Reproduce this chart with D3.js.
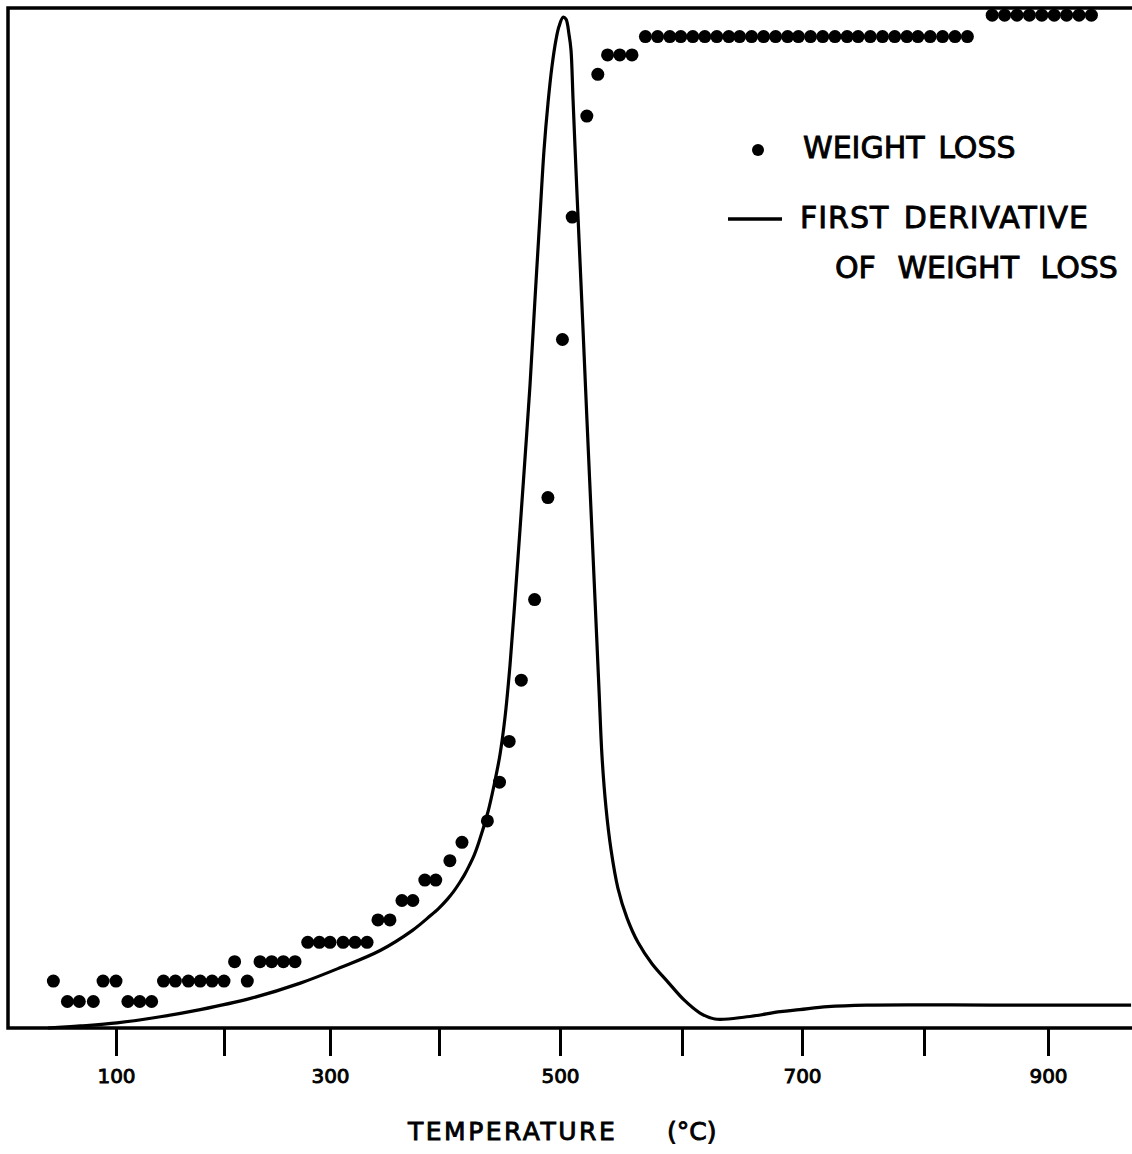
<!DOCTYPE html>
<html>
<head>
<meta charset="utf-8">
<script src="https://cdn.jsdelivr.net/npm/d3@7/dist/d3.min.js"></script>
<style>
  html, body { margin: 0; padding: 0; background: #fff; }
  svg { display: block; }
  text { font-family: "DejaVu Sans", "Liberation Sans", sans-serif; fill: #000; stroke: #000; stroke-width: 0.9px; }
</style>
</head>
<body>
<svg id="chart" width="1132" height="1154"></svg>
<script>
// ---- Data ----
// Weight loss points: temperature (°C)
const weightLossTemp = [
  42, 55, 66, 79, 88, 100, 111, 122, 133, 144, 155, 167, 178, 189, 200,
  210, 222, 234, 245, 256, 267, 279, 290, 300, 312, 323, 334, 344, 355,
  366, 376, 387, 397, 409, 419, 440, 450, 458, 468, 479, 490, 502, 510,
  522, 531, 539, 549, 559,
  570, 580, 590, 599, 609, 619, 629, 639, 648, 658, 668, 678, 688, 697,
  707, 717, 727, 737, 746, 756, 766, 776, 786, 795, 805, 815, 825, 835,
  855, 865, 875, 885, 895, 905, 915, 925, 935
];
// Weight loss points: relative value (% of full scale)
const weightLossValue = [
  4.6, 2.6, 2.6, 2.6, 4.6, 4.6, 2.6, 2.6, 2.6, 4.6, 4.6, 4.6, 4.6, 4.6, 4.6,
  6.5, 4.6, 6.5, 6.5, 6.5, 6.5, 8.4, 8.4, 8.4, 8.4, 8.4, 8.4, 10.6, 10.6,
  12.5, 12.5, 14.5, 14.5, 16.4, 18.2, 20.3, 24.1, 28.1, 34.1, 42.0, 52.0, 67.5, 79.5,
  89.4, 93.5, 95.4, 95.4, 95.4,
  97.2, 97.2, 97.2, 97.2, 97.2, 97.2, 97.2, 97.2, 97.2, 97.2, 97.2, 97.2, 97.2, 97.2,
  97.2, 97.2, 97.2, 97.2, 97.2, 97.2, 97.2, 97.2, 97.2, 97.2, 97.2, 97.2, 97.2, 97.2,
  99.3, 99.3, 99.3, 99.3, 99.3, 99.3, 99.3, 99.3, 99.3
];
// First derivative curve: temperature (°C)
const derivTemp = [
  37, 67, 101, 141, 178, 225, 272, 309, 346, 376, 392, 400, 407, 412, 417, 421, 425, 429, 433,
  440.5, 445.5, 450.4, 454.5, 458.7, 462.8, 466.9, 471.1, 475.2, 479.3, 483.5,
  486.8, 490.1, 493.4, 496.7, 499.2, 502.5,
  504.9, 507.4, 509.0, 510.7, 513.1, 515.6, 518.9, 522.1, 525.4, 528.7, 532.0,
  534.4, 537.7, 541.8, 547.5, 554.9, 563.9, 575.4, 588.5, 601.7, 615.0, 627.5,
  654, 682, 698, 721, 753, 861, 967
];
// First derivative curve: relative value
const derivValue = [
  0, 0.2, 0.5, 1.1, 1.8, 2.9, 4.4, 5.9, 7.6, 9.6, 11.0, 11.76, 12.64, 13.37, 14.24, 15.01, 15.92, 16.93, 18.24,
  21.2, 23.8, 26.8, 30.4, 35.6, 42.0, 48.8, 55.9, 63.0, 71.4, 79.7,
  86.1, 90.7, 94.3, 96.9, 98.2, 99.1,
  98.9, 97.4, 95.9, 91.0, 84.1, 77.3, 68.4, 59.6, 50.8, 42.0, 33.1,
  26.7, 21.6, 17.5, 13.7, 10.8, 8.4, 6.3, 4.5, 2.75, 1.47, 0.88,
  1.1, 1.6, 1.8, 2.1, 2.25, 2.25, 2.25
];
// Axis ticks and labels
const tickValues = [100, 200, 300, 400, 500, 600, 700, 800, 900];
const tickLabels = ["100", "", "300", "", "500", "", "700", "", "900"];
const xTitle = "TEMPERATURE";
const xUnit = "(°C)";
const legendLabels = ["WEIGHT LOSS", "FIRST DERIVATIVE", "OF WEIGHT LOSS"];

// ---- Layout ----
const svg = d3.select("#chart");
const plotL = 8, plotT = 8, plotB = 1028, plotR = 1132;

// The hand-drawn original has slightly uneven tick spacing; map it with a piecewise scale
const x = d3.scaleLinear()
  .domain([0, 100, 200, 300, 400, 500, 600, 700, 800, 900])
  .range([plotL, 116, 224, 330, 439, 560, 682, 802, 924, 1048]);
const y = d3.scaleLinear().domain([0, 100]).range([plotB, plotT]);

// Frame
svg.append("path")
  .attr("d", `M${plotR},${plotT} H${plotL} V${plotB} H${plotR}`)
  .attr("fill", "none")
  .attr("stroke", "#000")
  .attr("stroke-width", 3.5);

// Bottom axis
const axis = d3.axisBottom(x)
  .tickValues(tickValues)
  .tickSize(28)
  .tickPadding(13)
  .tickFormat((d, i) => tickLabels[i]);
const gAxis = svg.append("g").attr("transform", `translate(0,${plotB})`).call(axis);
gAxis.select(".domain").remove();
gAxis.selectAll(".tick line").attr("stroke", "#000").attr("stroke-width", 3);
gAxis.selectAll(".tick text")
  .attr("font-size", 20)
  .attr("font-family", "DejaVu Sans, sans-serif")
  .attr("fill", "#000");

// Axis title
const title = svg.append("text")
  .attr("y", 1140)
  .attr("font-size", 25);
title.append("tspan").attr("x", 408).attr("letter-spacing", 2.5).text(xTitle);
title.append("tspan").attr("x", 667).text(xUnit);

// Derivative curve
const pts = derivTemp.map((t, i) => [t, derivValue[i]]);
const line = d3.line()
  .x(d => x(d[0]))
  .y(d => y(d[1]))
  .curve(d3.curveCatmullRom.alpha(0.5));
svg.append("path")
  .datum(pts)
  .attr("d", line)
  .attr("fill", "none")
  .attr("stroke", "#000")
  .attr("stroke-width", 3.2)
  .attr("stroke-linejoin", "round");

// Weight loss points
svg.append("g").selectAll("circle")
  .data(weightLossTemp.map((t, i) => [t, weightLossValue[i]]))
  .join("circle")
  .attr("cx", d => x(d[0]))
  .attr("cy", d => y(d[1]))
  .attr("r", 6.5)
  .attr("fill", "#000");

// Legend
const lg = svg.append("g");
lg.append("circle").attr("cx", 758).attr("cy", 150).attr("r", 6).attr("fill", "#000");
lg.append("text").attr("x", 803).attr("y", 158).attr("font-size", 30)
  .attr("word-spacing", 4).text(legendLabels[0]);
lg.append("line").attr("x1", 728).attr("x2", 782).attr("y1", 219).attr("y2", 219)
  .attr("stroke", "#000").attr("stroke-width", 3.5);
lg.append("text").attr("x", 800).attr("y", 228).attr("font-size", 30)
  .attr("letter-spacing", 1).attr("word-spacing", 4).text(legendLabels[1]);
lg.append("text").attr("x", 835).attr("y", 278).attr("font-size", 30)
  .attr("word-spacing", 12).text(legendLabels[2]);
</script>
</body>
</html>
